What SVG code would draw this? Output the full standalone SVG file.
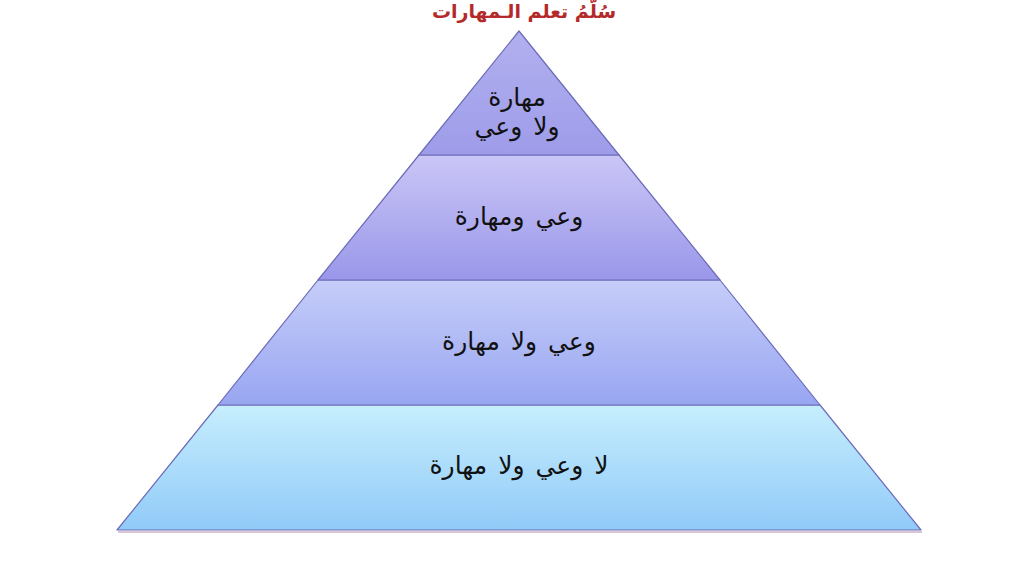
<svg xmlns="http://www.w3.org/2000/svg" width="1015" height="562" viewBox="0 0 1015 562">
<style>
.tier{stroke:#6b6bb8;stroke-width:1.2;stroke-linejoin:round}
.lbl{font-family:"DejaVu Sans",sans-serif;font-size:25px;word-spacing:3px;fill:#111;text-anchor:middle;direction:rtl}
.title{font-family:"DejaVu Sans",sans-serif;font-size:19px;font-weight:bold;fill:#b42a2a;text-anchor:middle;direction:rtl}
</style>
<defs>
<linearGradient id="g1" x1="0" y1="0" x2="0" y2="1"><stop offset="0" stop-color="#b2b0ef"/><stop offset="1" stop-color="#9e9ce9"/></linearGradient>
<linearGradient id="g2" x1="0" y1="0" x2="0" y2="1"><stop offset="0" stop-color="#cac6f6"/><stop offset="1" stop-color="#9a97ea"/></linearGradient>
<linearGradient id="g3" x1="0" y1="0" x2="0" y2="1"><stop offset="0" stop-color="#c6cdf9"/><stop offset="1" stop-color="#98a6f1"/></linearGradient>
<linearGradient id="g4" x1="0" y1="0" x2="0" y2="1"><stop offset="0" stop-color="#c6eefd"/><stop offset="1" stop-color="#91caf8"/></linearGradient>
</defs>
<rect width="1015" height="562" fill="#ffffff"/>
<text class="title" x="524" y="18">سُلَّمُ تعلم الـمهارات</text>
<g id="shadow"><path d="M118 532 L922 532" stroke="#d9c6d6" stroke-width="2" fill="none"/></g>
<g id="tier4">
<polygon class="tier" points="218,405 820,405 921,530 117,530" fill="url(#g4)" stroke="#5b8fc4"/>
<text class="lbl" x="519" y="474">لا وعي ولا مهارة</text>
</g>
<g id="tier3">
<polygon class="tier" points="318,280 720,280 820,405 218,405" fill="url(#g3)"/>
<text class="lbl" x="519" y="350">وعي ولا مهارة</text>
</g>
<g id="tier2">
<polygon class="tier" points="419,155 619,155 720,280 318,280" fill="url(#g2)"/>
<text class="lbl" x="519" y="225">وعي ومهارة</text>
</g>
<g id="tier1">
<polygon class="tier" points="519,31 619,155 419,155" fill="url(#g1)"/>
<text class="lbl" x="517" y="106">مهارة</text>
<text class="lbl" x="517" y="135">ولا وعي</text>
</g>
<g id="connectors"></g>
</svg>
